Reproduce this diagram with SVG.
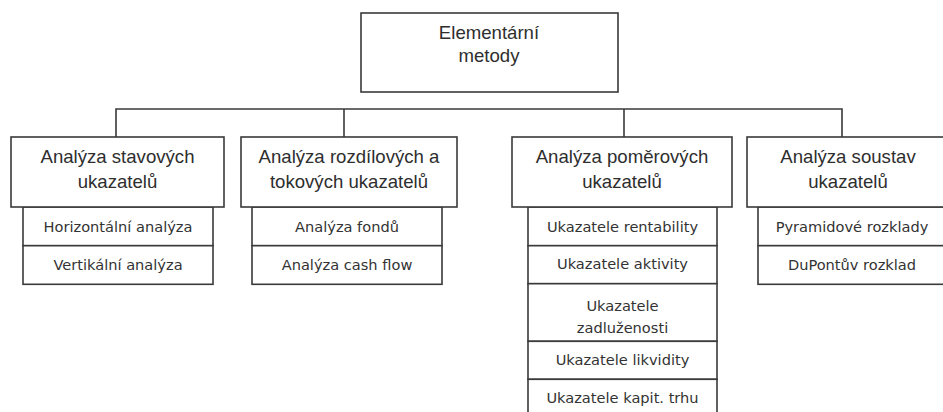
<svg xmlns="http://www.w3.org/2000/svg" width="943" height="412" viewBox="0 0 943 412">
<style>
.box{fill:#fff;stroke:#3a3a3a;stroke-width:1.6}
.ln{fill:none;stroke:#3a3a3a;stroke-width:1.6}
.h{font-family:"Liberation Sans",Arial,sans-serif;font-size:18.6px;fill:#2e2e2e;text-anchor:middle}
.s{font-family:"DejaVu Sans",Verdana,sans-serif;font-size:14.6px;fill:#333;text-anchor:middle}
</style>
<rect width="943" height="412" fill="#fff"/>
<g id="connectors">
<path class="ln" d="M116,137V109H842V137M344,109V137M624,109V137"/>
</g>
<g id="root">
<rect class="box" x="361" y="13" width="257" height="79"/>
<text class="h" x="489" y="38.5">Elementární</text>
<text class="h" x="489" y="62">metody</text>
</g>
<g id="stavove">
<rect class="box" x="23" y="207" width="190" height="38.7"/>
<text class="s" x="118" y="231.5">Horizontální analýza</text>
<rect class="box" x="23" y="245.7" width="190" height="38.6"/>
<text class="s" x="118" y="269.5">Vertikální analýza</text>
<rect class="box" x="11" y="137" width="213" height="70"/>
<text class="h" x="117.5" y="162.5">Analýza stavových</text>
<text class="h" x="117.5" y="188">ukazatelů</text>
</g>
<g id="rozdilove">
<rect class="box" x="252" y="207" width="190" height="38.7"/>
<text class="s" x="347" y="231.5">Analýza fondů</text>
<rect class="box" x="252" y="245.7" width="190" height="38.6"/>
<text class="s" x="347" y="269.5">Analýza cash flow</text>
<rect class="box" x="241" y="137" width="216" height="70"/>
<text class="h" x="349" y="162.5">Analýza rozdílových a</text>
<text class="h" x="349" y="188">tokových ukazatelů</text>
</g>
<g id="pomerove">
<rect class="box" x="528" y="207" width="189" height="38.7"/>
<text class="s" x="622.5" y="231.5">Ukazatele rentability</text>
<rect class="box" x="528" y="245.7" width="189" height="38"/>
<text class="s" x="622.5" y="269.3">Ukazatele aktivity</text>
<rect class="box" x="528" y="283.7" width="189" height="57.6"/>
<text class="s" x="622.5" y="311">Ukazatele</text>
<text class="s" x="622.5" y="333.3">zadluženosti</text>
<rect class="box" x="528" y="341.3" width="189" height="38"/>
<text class="s" x="622.5" y="364.5">Ukazatele likvidity</text>
<rect class="box" x="528" y="379.3" width="189" height="45"/>
<text class="s" x="622.5" y="402.5">Ukazatele kapit. trhu</text>
<rect class="box" x="512" y="137" width="220" height="70"/>
<text class="h" x="622" y="162.5">Analýza poměrových</text>
<text class="h" x="622" y="188">ukazatelů</text>
</g>
<g id="soustavy">
<rect class="box" x="758" y="207" width="189" height="38.7"/>
<text class="s" x="852" y="231.5">Pyramidové rozklady</text>
<rect class="box" x="758" y="245.7" width="189" height="38.6"/>
<text class="s" x="852" y="269.5">DuPontův rozklad</text>
<rect class="box" x="747" y="137" width="203" height="70"/>
<text class="h" x="848" y="162.5">Analýza soustav</text>
<text class="h" x="848" y="188">ukazatelů</text>
</g>
</svg>
